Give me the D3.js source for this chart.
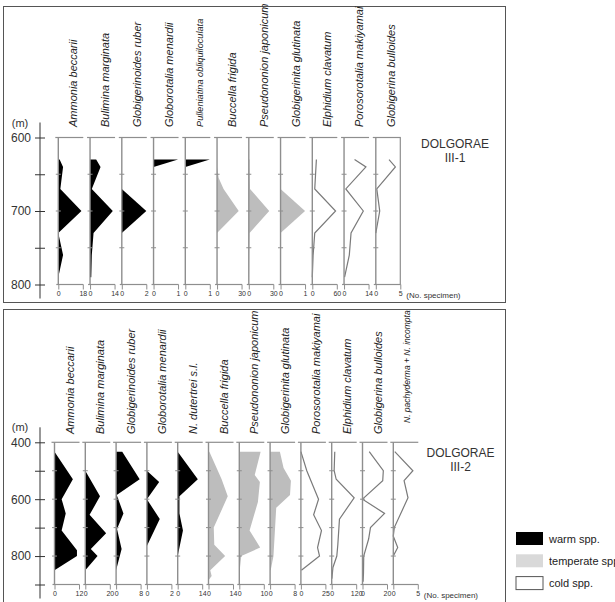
<!DOCTYPE html>
<html>
<head>
<meta charset="utf-8">
<script src="https://d3js.org/d3.v7.min.js"></script>
<style>
  body { margin: 0; background: #fff; }
  svg { font-family: Arial, "Liberation Sans", sans-serif; }
</style>
</head>
<body>
<script>
// ---- DOLGORAE III-1 ----
const topSpecies = ['Ammonia beccarii', 'Bulimina marginata', 'Globigerinoides ruber', 'Globorotalia menardii',
  'Pulleniatina obliquiloculata', 'Buccella frigida', 'Pseudononion japonicum', 'Globigerinita glutinata',
  'Elphidium clavatum', 'Porosorotalia makiyamai', 'Globigerina bulloides'];
const topGroups = ['warm', 'warm', 'warm', 'warm', 'warm', 'temperate', 'temperate', 'temperate', 'cold', 'cold', 'cold'];
const topMax = [18, 14, 2, 1, 1, 30, 30, 1, 60, 14, 5];
const topDepthTicks = [600, 650, 700, 750, 800];
const topDepthLabels = [600, 700, 800];
// [depth (m), no. specimen]
const topSeries = [
  [[630, 1], [640, 3.5], [670, 1.5], [700, 17], [730, 0], [760, 3.5], [790, 0]],
  [[630, 3.5], [640, 6], [670, 1], [700, 13], [730, 2], [760, 1], [790, 0.7]],
  [[670, 0], [700, 2], [730, 0]],
  [[630, 1], [640, 0]],
  [[630, 1], [640, 0]],
  [[640, 0], [655, 2], [670, 8], [700, 26.5], [730, 0]],
  [[630, 1], [640, 1], [670, 1.5], [700, 25], [730, 1], [760, 0.5], [790, 0.3]],
  [[670, 0], [700, 1], [730, 0]],
  [[630, 10], [670, 6], [700, 57], [730, 6], [760, 2], [790, 0]],
  [[630, 6], [640, 12.5], [670, 1], [700, 11], [730, 4], [760, 3], [790, 0.3]],
  [[630, 2.7], [640, 4], [670, 0.2], [700, 0.8], [730, 0]]
];

// ---- DOLGORAE III-2 ----
const botSpecies = ['Ammonia beccarii', 'Bulimina marginata', 'Globigerinoides ruber', 'Globorotalia menardii',
  'N. dutertrei s.l.', 'Buccella frigida', 'Pseudononion japonicum', 'Globigerinita glutinata',
  'Porosorotalia makiyamai', 'Elphidium clavatum', 'Globigerina bulloides', 'N. pachyderma + N. incompta'];
const botGroups = ['warm', 'warm', 'warm', 'warm', 'warm', 'temperate', 'temperate', 'temperate', 'cold', 'cold', 'cold', 'cold'];
const botMax = [12, 20, 8, 2, 14, 14, 10, 8, 25, 120, 20, 5];
const botDepthTicks = [400, 500, 600, 700, 800, 900];
const botDepthLabels = [400, 600, 800];
const botSeries = [
  [[433, 0], [530, 9], [600, 3.5], [650, 5.5], [710, 3.5], [780, 11], [800, 11], [850, 0]],
  [[500, 0], [590, 12], [655, 3.5], [720, 17], [775, 4.5], [800, 10], [850, 0]],
  [[433, 2], [530, 7.7], [585, 0.2], [650, 2.4], [705, 0.3], [775, 1.8], [850, 0]],
  [[500, 0], [540, 1], [600, 0], [670, 1.05], [765, 0]],
  [[433, 0], [530, 11.5], [590, 1], [650, 1], [710, 3], [800, 0]],
  [[433, 0.5], [530, 7.5], [590, 11], [700, 3], [760, 3.3], [800, 9.5], [850, 1], [870, 1.8], [885, 0]],
  [[433, 8.7], [515, 6.3], [540, 8.4], [610, 7.6], [710, 4.2], [770, 8.5], [800, 0.8], [840, 0.3], [900, 0.2]],
  [[433, 3.2], [490, 4.4], [535, 6.8], [585, 6.5], [630, 2], [800, 1.1], [850, 0.2]],
  [[433, 0], [500, 6], [600, 18], [655, 13], [710, 21], [770, 17], [800, 19], [850, 0.5]],
  [[433, 15], [500, 12], [530, 22], [595, 110], [670, 38], [760, 30], [800, 25], [840, 6], [880, 1]],
  [[433, 5.5], [500, 17], [535, 16.5], [600, 0], [650, 18], [700, 6.5], [740, 5], [800, 1], [860, 0.8], [890, 0.5]],
  [[433, 0.3], [500, 4], [535, 2.2], [595, 3], [700, 0.2], [730, 0], [770, 0.9], [800, 0]]
];

const legendItems = ['warm spp.', 'temperate spp.', 'cold spp.'];

const fills = { warm: '#000', temperate: '#bdbdbd' };
const axisGrey = '#8e8e8e';

const svg = d3.select('body').append('svg')
  .attr('width', 615)
  .attr('height', 602);

function drawPanel(p) {
  const g = svg.append('g');

  // frame
  g.append('rect')
    .attr('x', p.frame[0]).attr('y', p.frame[1])
    .attr('width', p.frame[2]).attr('height', p.frame[3])
    .attr('fill', 'none').attr('stroke', '#555');

  const dMin = d3.min(p.ticks), dMax = d3.max(p.ticks);
  const y = d3.scaleLinear().domain([dMin, dMax]).range(p.yRange);

  // depth axis
  const ax = g.append('g')
    .attr('transform', 'translate(40,0)')
    .call(d3.axisLeft(y).tickValues(p.ticks)
      .tickFormat(d => p.labels.includes(d) ? d : '')
      .tickSize(5).tickPadding(4));
  ax.select('.domain').remove();
  ax.selectAll('.tick line').attr('x1', 5).attr('stroke', '#333');
  ax.selectAll('.tick text').attr('font-size', 12).attr('fill', '#333')
    .attr('font-family', 'Arial, "Liberation Sans", sans-serif');
  ax.append('line')
    .attr('y1', y.range()[0] - 15).attr('y2', y.range()[1] + 14)
    .attr('stroke', '#333');
  g.append('text')
    .attr('x', 20).attr('y', y.range()[0] - 11)
    .attr('text-anchor', 'middle')
    .attr('font-size', 11).attr('fill', '#333')
    .text('(m)');

  const colX = d3.scaleLinear().domain([0, p.species.length - 1]).range(p.colRange);
  const colW = 24.5;

  p.species.forEach((name, i) => {
    const x0 = colX(i);
    const xs = d3.scaleLinear().domain([0, p.max[i]]).range([x0, x0 + colW]);
    const c = g.append('g');

    // header label
    const ls = p.labelSize[i] || { size: 11, dx: 19, dy: 0 };
    c.append('text')
      .attr('transform', `translate(${x0 + ls.dx},${p.labelEnd - ls.dy}) rotate(-90)`)
      .attr('font-size', ls.size)
      .attr('font-style', 'italic')
      .attr('fill', '#222')
      .text(name);

    // data
    const pts = p.series[i];
    if (p.groups[i] === 'cold') {
      c.append('path')
        .attr('d', d3.line().x(d => xs(d[1])).y(d => y(d[0]))(pts))
        .attr('fill', 'none').attr('stroke', '#7a7a7a').attr('stroke-width', 1.2);
    } else {
      c.append('path')
        .attr('d', d3.area().y(d => y(d[0])).x0(xs(0)).x1(d => xs(d[1]))(pts))
        .attr('fill', fills[p.groups[i]]);
    }

    // column baseline, top line, ticks
    c.append('line')
      .attr('x1', x0).attr('x2', x0)
      .attr('y1', y(dMin)).attr('y2', y(dMax))
      .attr('stroke', axisGrey).attr('stroke-width', 1.4);
    c.append('line')
      .attr('x1', x0 - 3).attr('x2', xs.range()[1] + 0.5)
      .attr('y1', y(dMin)).attr('y2', y(dMin))
      .attr('stroke', axisGrey).attr('stroke-width', 1.2);
    c.selectAll('.mt')
      .data(p.ticks.slice(1, -1))
      .join('line')
      .attr('x1', x0 - 2.5).attr('x2', x0 + 2.5)
      .attr('y1', d => y(d)).attr('y2', d => y(d))
      .attr('stroke', axisGrey);
    if (p.closeLast && i === p.species.length - 1) {
      c.append('line')
        .attr('x1', xs.range()[1]).attr('x2', xs.range()[1])
        .attr('y1', y(dMin)).attr('y2', y(dMax))
        .attr('stroke', axisGrey).attr('stroke-width', 1.2);
    }

    const bx = c.append('g')
      .attr('transform', `translate(0,${y(dMax)})`)
      .call(d3.axisBottom(xs).tickValues([0, p.max[i]])
        .tickSize(5).tickSizeOuter(0).tickPadding(2).tickFormat(d3.format('d')));
    bx.select('.domain').attr('stroke', axisGrey).attr('stroke-width', 1.2)
      .attr('d', `M${x0 - 2},0H${xs.range()[1] + 0.5}`);
    bx.selectAll('.tick line').attr('stroke', axisGrey);
    bx.selectAll('.tick text').attr('font-size', 7).attr('fill', '#333')
      .attr('font-family', 'Arial, "Liberation Sans", sans-serif');

    if (i === p.species.length - 1) {
      c.append('text')
        .attr('x', xs.range()[1] + 6).attr('y', y(dMax) + 13.5)
        .attr('font-size', 8).attr('fill', '#333')
        .text('(No. specimen)');
    }
  });

  const t = g.append('text')
    .attr('x', p.title[0]).attr('y', p.title[1])
    .attr('text-anchor', 'middle')
    .attr('font-size', 12).attr('fill', '#333');
  t.append('tspan').attr('x', p.title[0]).text('DOLGORAE');
  t.append('tspan').attr('x', p.title[0]).attr('dy', 13.5).text(p.titleSub);
}

drawPanel({
  frame: [3.5, 6.5, 502, 296],
  species: topSpecies, groups: topGroups, max: topMax, series: topSeries,
  ticks: topDepthTicks, labels: topDepthLabels,
  yRange: [137.5, 284.5], colRange: [58.3, 375.8], labelEnd: 127,
  labelSize: { 4: { size: 9.2, dx: 18, dy: 0 } },
  closeLast: true,
  title: [455, 148], titleSub: 'III-1'
});

drawPanel({
  frame: [3.5, 309.5, 502, 300],
  species: botSpecies, groups: botGroups, max: botMax, series: botSeries,
  ticks: botDepthTicks, labels: botDepthLabels,
  yRange: [442.3, 584.5], colRange: [54.5, 393.3], labelEnd: 434,
  labelSize: { 11: { size: 8.5, dx: 17, dy: 11 } },
  title: [460.5, 457], titleSub: 'III-2'
});

// legend
const lg = svg.append('g').attr('transform', 'translate(516,532)');
const lgFill = ['#000', '#d9d9d9', '#fff'];
lg.selectAll('rect')
  .data(legendItems)
  .join('rect')
  .attr('x', 0).attr('y', (d, i) => i * 22.3)
  .attr('width', 27).attr('height', 13)
  .attr('fill', (d, i) => lgFill[i])
  .attr('stroke', (d, i) => i === 2 ? '#555' : 'none');
lg.selectAll('text')
  .data(legendItems)
  .join('text')
  .attr('x', 33).attr('y', (d, i) => i * 22.3 + 10.5)
  .attr('font-size', 11).attr('fill', '#222')
  .text(d => d);
</script>
</body>
</html>
